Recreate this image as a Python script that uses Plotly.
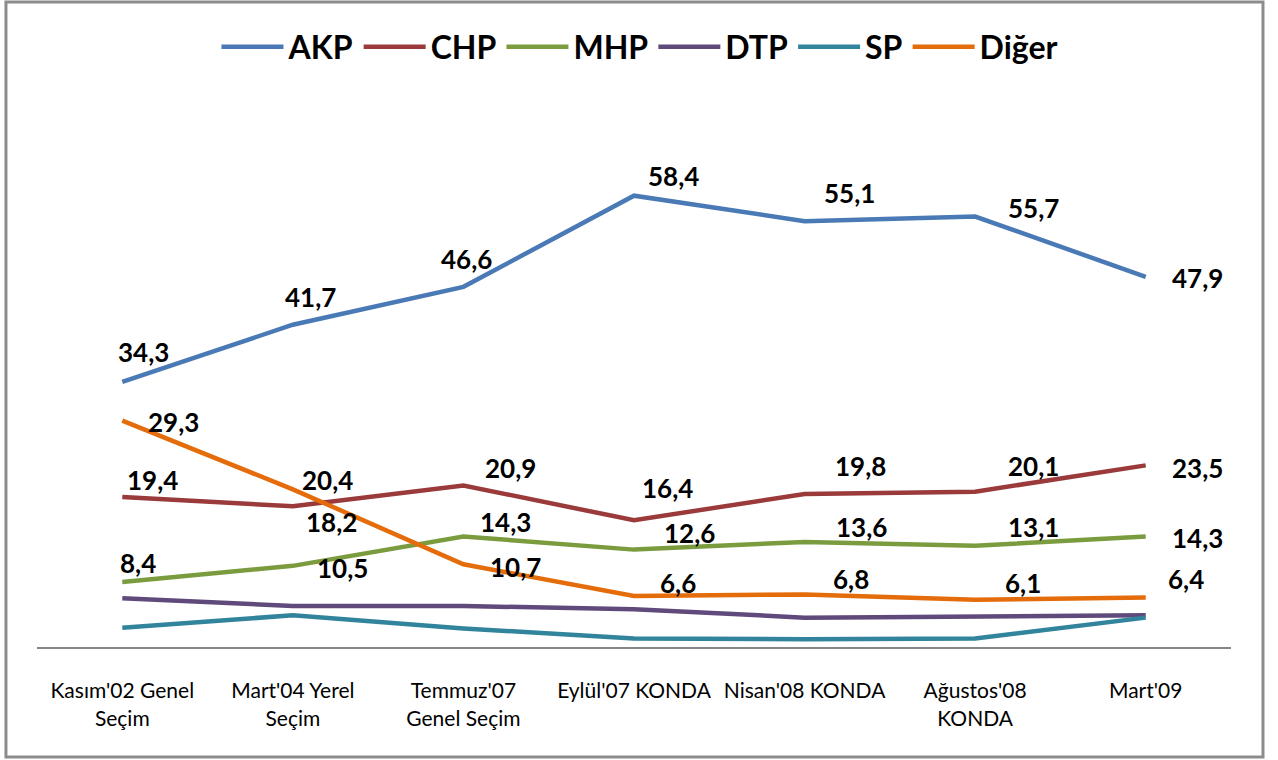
import plotly.graph_objects as go

categories = ["Kasım'02 Genel<br>Seçim", "Mart'04 Yerel<br>Seçim", "Temmuz'07<br>Genel Seçim",
              "Eylül'07 KONDA", "Nisan'08 KONDA", "Ağustos'08<br>KONDA", "Mart'09"]
series_names = ["AKP", "CHP", "MHP", "DTP", "SP", "Diğer"]
akp = [34.3, 41.7, 46.6, 58.4, 55.1, 55.7, 47.9]
chp = [19.4, 18.2, 20.9, 16.4, 19.8, 20.1, 23.5]
mhp = [8.4, 10.5, 14.3, 12.6, 13.6, 13.1, 14.3]
dtp = [6.3, 5.3, 5.3, 4.9, 3.8, 4.0, 4.1]
sp = [2.5, 4.1, 2.4, 1.1, 1.0, 1.1, 3.8]
diger = [29.3, 20.4, 10.7, 6.6, 6.8, 6.1, 6.4]

values = [akp, chp, mhp, dtp, sp, diger]
colors = ["#4a7ab5", "#9b3a3a", "#7b9c3e", "#604a7b", "#31849b", "#e46c0a"]
show_labels = [True, True, True, False, False, True]

# label offsets in pixels (dx, dy-down) per series
label_offsets = {
    "AKP": [(21, -30), (18, -28), (3, -28), (39, -20), (45, -28), (58, -9), (52, 1)],
    "CHP": [(30, -17), (39, 16), (47, -17), (33, -32), (56, -28), (58, -26), (52, 3)],
    "MHP": [(16, -19), (50, 2), (42, -14), (55, -17), (57, -15), (58, -19), (52, 2)],
    "Diğer": [(51, 1), (35, -9), (52, 3), (44, -13), (46, -15), (48, -17), (40, -19)],
}

x_idx = list(range(len(categories)))
fig = go.Figure()
for name, vals, col in zip(series_names, values, colors):
    fig.add_trace(go.Scatter(x=x_idx, y=vals, mode="lines", name=name,
                             line=dict(color=col, width=4.5)))

annotations = []
for name, vals, show in zip(series_names, values, show_labels):
    if not show:
        continue
    for i, v in enumerate(vals):
        dx, dy = label_offsets[name][i]
        annotations.append(dict(x=i, y=v, xref="x", yref="y",
                                text=f"{v:.1f}".replace(".", ","),
                                showarrow=False, xshift=dx, yshift=-dy,
                                font=dict(family="Lato", size=26, color="#000000", weight="bold")))

fig.update_layout(
    width=1278, height=760,
    margin=dict(l=37, r=47, t=106, b=113),
    paper_bgcolor="white", plot_bgcolor="white",
    font=dict(family="Lato", color="#000000"),
    showlegend=True,
    legend=dict(orientation="h", x=0.505, xanchor="center", y=1.109, yanchor="middle",
                font=dict(family="Lato", size=32, color="#000000", weight="bold"),
                itemwidth=62, bgcolor="rgba(0,0,0,0)"),
    xaxis=dict(range=[-0.5, 6.5], tickmode="array", tickvals=x_idx, ticktext=categories,
               showgrid=False, zeroline=False, showline=True, linecolor="#868686", linewidth=2,
               ticks="", ticklabelstandoff=24,
               tickfont=dict(family="Lato", size=21, color="#000000")),
    yaxis=dict(range=[0, 70], showgrid=False, zeroline=False, showline=False,
               showticklabels=False, ticks=""),
    annotations=annotations,
    shapes=[dict(type="rect", xref="paper", yref="paper", x0=-0.026, x1=1.0268,
                 y0=-0.2033, y1=1.1922, line=dict(color="#8c8c8c", width=3),
                 fillcolor="rgba(0,0,0,0)", layer="below")],
)

fig.write_html("out.html", config={"displayModeBar": False},
               post_script="document.body.style.margin='0';")
